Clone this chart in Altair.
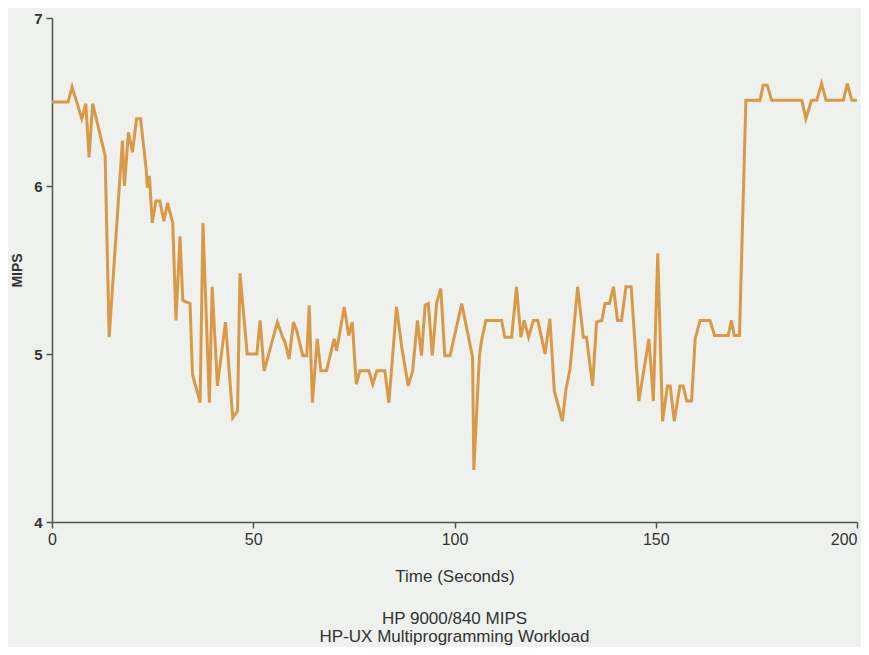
import altair as alt
import pandas as pd

time_s = [0, 4, 5, 7.4, 8.4, 9.2, 10.1, 13.2, 14.2, 17.5, 18.0, 19.0, 20.0, 21.0, 22.0,
          23.4, 23.7, 24.2, 24.9, 25.8, 26.8, 27.8, 28.7, 30.0, 30.8, 31.8, 32.5, 33.3,
          34.3, 34.9, 36.8, 37.5, 39.1, 39.8, 41.1, 43.1, 44.9, 46.1, 46.7, 48.5, 50.9,
          51.7, 52.7, 56.0, 57.3, 57.9, 58.9, 60.0, 60.8, 62.3, 63.3, 63.9, 64.7, 65.9,
          66.8, 68.2, 70.1, 70.7, 72.6, 73.7, 74.6, 75.6, 76.5, 78.7, 79.7, 80.7, 82.7,
          83.7, 85.6, 86.9, 88.5, 89.6, 90.8, 91.8, 92.7, 93.5, 94.5, 95.6, 96.6, 97.6,
          98.9, 101.8, 104.5, 104.8, 106.2, 106.8, 107.8, 111.7, 112.5, 114.2, 115.4,
          116.5, 117.3, 118.4, 119.6, 120.7, 122.5, 123.7, 124.8, 126.8, 127.7, 128.7,
          130.6, 132.0, 132.8, 134.3, 135.3, 136.6, 137.4, 138.5, 139.5, 140.5, 141.5,
          142.6, 143.9, 145.8, 148.3, 149.4, 150.5, 151.7, 152.9, 153.6, 154.6, 156.0,
          156.8, 157.7, 158.9, 159.8, 161.0, 163.5, 164.6, 168.0, 168.8, 169.5, 170.8,
          172.4, 175.9, 176.7, 177.7, 178.8, 186.3, 187.3, 188.7, 190.0, 191.2, 192.3,
          196.6, 197.6, 198.7, 200.0]

mips = [6.50, 6.50, 6.59, 6.40, 6.49, 6.17, 6.49, 6.18, 5.10, 6.27, 6.00, 6.32, 6.20, 6.40, 6.40,
        6.10, 5.99, 6.06, 5.78, 5.91, 5.91, 5.79, 5.90, 5.78, 5.20, 5.70, 5.32, 5.31,
        5.30, 4.88, 4.71, 5.78, 4.71, 5.40, 4.81, 5.19, 4.62, 4.66, 5.48, 5.00, 5.00,
        5.20, 4.90, 5.19, 5.10, 5.07, 4.97, 5.19, 5.14, 4.99, 4.99, 5.29, 4.71, 5.09,
        4.90, 4.90, 5.09, 5.02, 5.28, 5.11, 5.19, 4.82, 4.90, 4.90, 4.82, 4.90, 4.90,
        4.71, 5.28, 5.04, 4.81, 4.90, 5.20, 4.99, 5.29, 5.30, 4.99, 5.31, 5.39, 4.99,
        4.99, 5.30, 4.98, 4.31, 4.99, 5.09, 5.20, 5.20, 5.10, 5.10, 5.40,
        5.10, 5.20, 5.10, 5.20, 5.20, 5.00, 5.21, 4.78, 4.60, 4.79, 4.91,
        5.40, 5.10, 5.10, 4.81, 5.19, 5.20, 5.30, 5.30, 5.40, 5.20, 5.20,
        5.40, 5.40, 4.72, 5.09, 4.72, 5.60, 4.60, 4.81, 4.81, 4.60, 4.81,
        4.81, 4.72, 4.72, 5.09, 5.20, 5.20, 5.11, 5.11, 5.20, 5.11, 5.11,
        6.51, 6.51, 6.60, 6.60, 6.51, 6.51, 6.40, 6.51, 6.51, 6.61, 6.51,
        6.51, 6.61, 6.51, 6.51]

x_ticks = [0, 50, 100, 150, 200]
y_ticks = [4, 5, 6, 7]
caption = ["HP 9000/840 MIPS", "HP-UX Multiprogramming Workload"]

df = pd.DataFrame({"t": time_s, "mips": mips})

FONT = "Liberation Sans"

chart = alt.Chart(df).mark_line(color="#d99a48", strokeWidth=3, strokeJoin="miter").encode(
    x=alt.X("t:Q", title="Time (Seconds)",
            scale=alt.Scale(domain=[0, 200], nice=False, zero=False),
            axis=alt.Axis(values=x_ticks, grid=False, labelFontSize=16, titleFontSize=17,
                          labelFlush=False, labelOverlap=False,
                          labelAlign={"condition": {"test": "datum.value >= 200", "value": "right"},
                                      "value": "center"},
                          labelPadding=3, titlePadding=21, tickSize=6)),
    y=alt.Y("mips:Q", title="MIPS",
            scale=alt.Scale(domain=[4, 7], nice=False, zero=False),
            axis=alt.Axis(values=y_ticks, grid=False, labelFontSize=15, titleFontSize=14,
                          labelFontWeight="bold", titleFontWeight="bold", labelFlush=False,
                          labelPadding=4, titlePadding=9, tickSize=6)),
).properties(
    width=805, height=504,
    background="#eef1ee",
    padding={"left": 44, "top": 10, "right": 4, "bottom": 125},
    autosize=alt.AutoSizeParams(type="none"),
    title=alt.TitleParams(text=caption, orient="bottom", anchor="middle", fontSize=17,
                          fontWeight="normal", font=FONT, color="#333333", offset=27,
                          lineHeight=18),
).configure_view(stroke=None).configure_axis(
    domainColor="#555555", domainWidth=1.5, tickColor="#555555", tickWidth=1.5,
    labelColor="#333333", titleColor="#333333", labelFont=FONT, titleFont=FONT,
    titleFontWeight="normal"
)

chart.save("out.html", embed_options={"renderer": "svg", "actions": False})
